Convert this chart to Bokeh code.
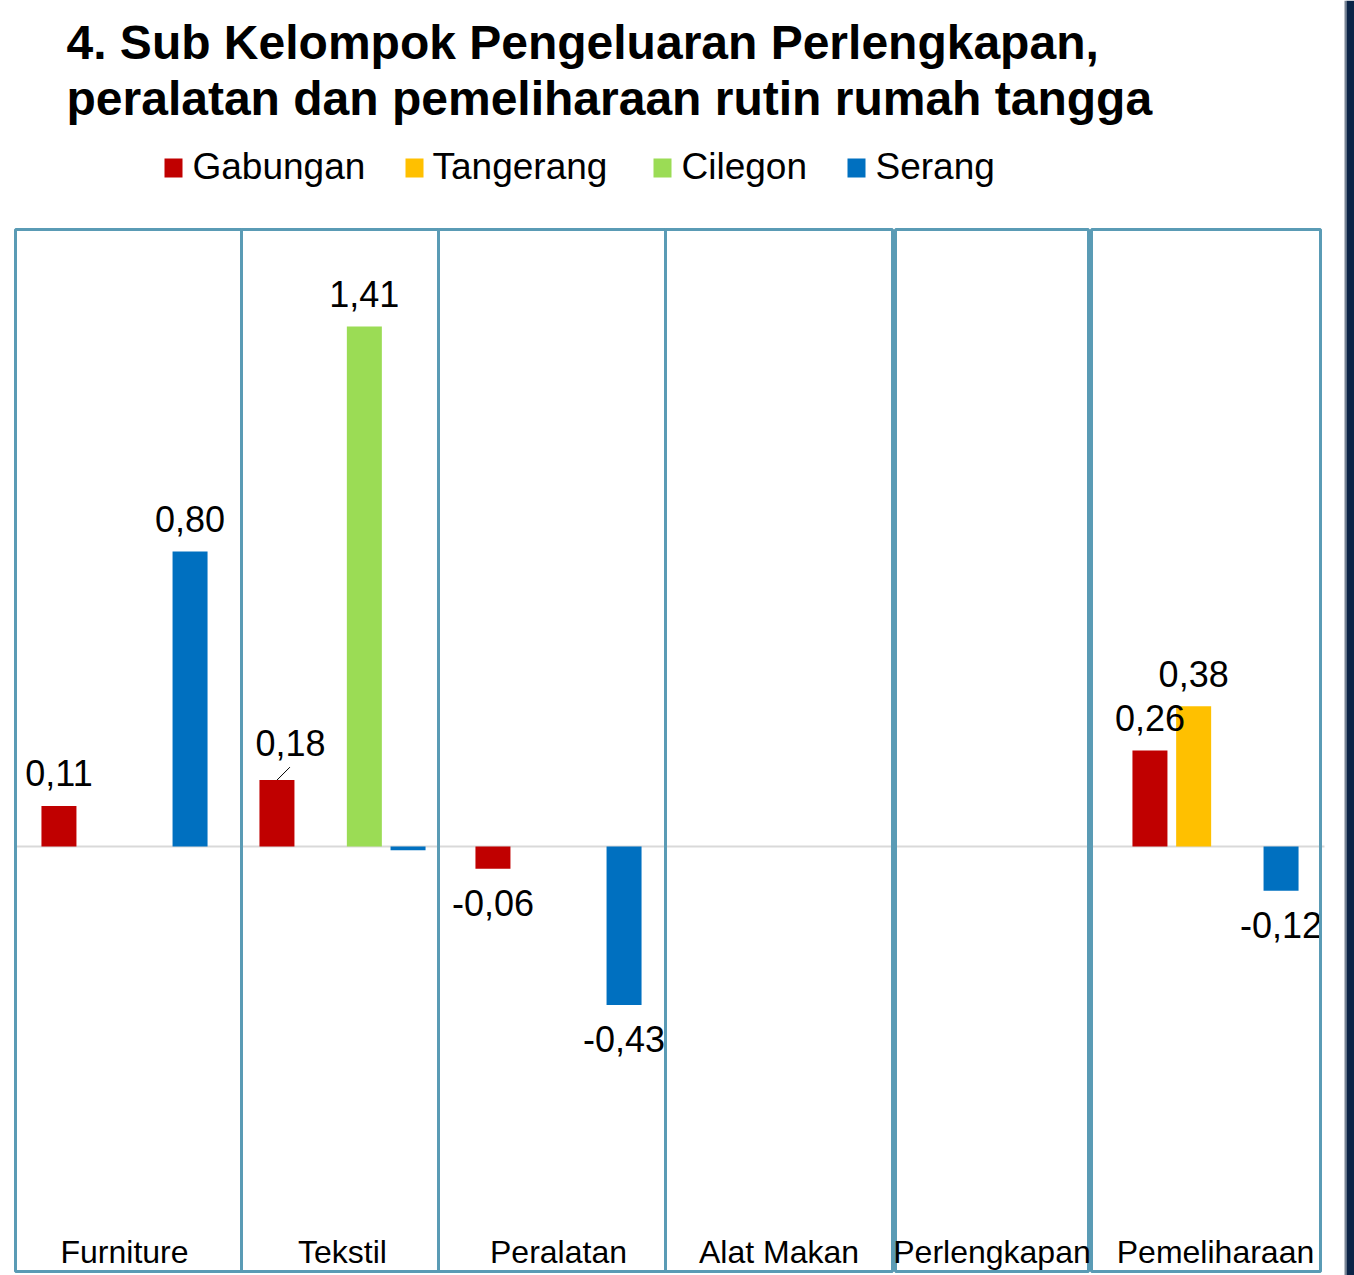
import math
from bokeh.plotting import figure
from bokeh.models import Range1d
from bokeh.core.properties import value
from bokeh.embed import file_html
from bokeh.resources import INLINE

# ---------------- data ----------------
title_lines = ["4. Sub Kelompok Pengeluaran Perlengkapan,",
               "peralatan dan pemeliharaan rutin rumah tangga"]
categories = ["Furniture", "Tekstil", "Peralatan", "Alat Makan", "Perlengkapan", "Pemeliharaan"]
series_names = ["Gabungan", "Tangerang", "Cilegon", "Serang"]
nan = float("nan")
gabungan = [0.11, 0.18, -0.06, nan, nan, 0.26]
tangerang = [nan, nan, nan, nan, nan, 0.38]
cilegon = [nan, 1.41, nan, nan, nan, nan]
serang = [0.80, -0.01, -0.43, nan, nan, -0.12]
series_values = [gabungan, tangerang, cilegon, serang]
series_colors = ["#c00000", "#ffc000", "#9bdc55", "#0070c0"]

# ---------------- layout (page pixel coordinates) ----------------
W, H = 1354, 1275
PAGE_X0, PAGE_Y0 = 0, 0
ZERO_Y = 846.0          # page y of value 0
PX_PER_UNIT = 368.8     # pixels per value unit
BASE_FIX = 0.35         # baseline correction (em) for the SVG renderer

def vy(page_y):
    return (ZERO_Y - page_y) / PX_PER_UNIT

y_top = vy(PAGE_Y0)
y_bot = vy(PAGE_Y0 + H)

panels = [(15, 241), (241, 438), (438, 665), (665, 892), (895, 1088), (1091, 1320)]
group_centers = [124, 342, 558, 778.5, 991.5, 1215]
slot = 43.7
bar_w = 35
panel_top, panel_bottom = 229, 1271
border_col = "#5a9bb5"
font = "Liberation Sans"

p = figure(width=W, height=H, output_backend="svg", toolbar_location=None,
           x_range=Range1d(PAGE_X0, PAGE_X0 + W), y_range=Range1d(y_bot, y_top),
           x_axis_type=None, y_axis_type=None, min_border=0)
p.outline_line_color = None
p.grid.visible = False
p.background_fill_color = "white"
p.border_fill_color = "white"

# right navy strip
p.quad(left=[1344], right=[1346], bottom=[y_bot], top=[y_top],
       fill_color="#7a8595", line_color=None)
p.quad(left=[1346], right=[1354], bottom=[y_bot], top=[y_top],
       fill_color="#0b2447", line_color=None)

# zero line
p.segment(x0=[15], y0=[0], x1=[1324], y1=[0], line_color="#d9d9d9", line_width=2)

VAL_FS = 36
fix_v = BASE_FIX * VAL_FS

pos_labels = []   # (x, y, text, x_off, y_off)
neg_labels = []

# bars
for si, (name, vals, col) in enumerate(zip(series_names, series_values, series_colors)):
    xs, tops = [], []
    for ci, v in enumerate(vals):
        if v is None or math.isnan(v):
            continue
        x = group_centers[ci] + (si - 1.5) * slot
        xs.append(x)
        tops.append(v)
        if abs(v) < 0.02:
            continue
        label = f"{v:.2f}".replace(".", ",")
        if v >= 0:
            if name == "Gabungan" and categories[ci] == "Tekstil":
                pos_labels.append((x, v, label, 13.5, -25))
                p.segment(x0=[x], y0=[v], x1=[x + 13], y1=[v + 13 / PX_PER_UNIT],
                          line_color="black", line_width=1)
            else:
                pos_labels.append((x, v, label, 0, -20))
        else:
            neg_labels.append((x, v, label, 0, 47))
    p.vbar(x=xs, top=tops, bottom=0, width=bar_w, fill_color=col, line_color=None)

# value labels (drawn above all bars)
for (x, v, t, ox, oy) in pos_labels + neg_labels:
    p.text(x=[x + ox], y=[v], text=[t], y_offset=oy - fix_v,
           text_font=value(font), text_font_size=f"{VAL_FS}px", text_color="black",
           text_align="center", text_baseline="alphabetic")

# panel borders
for (l, r) in panels:
    p.quad(left=[l], right=[r], bottom=[vy(panel_bottom)], top=[vy(panel_top)],
           fill_color=None, line_color=border_col, line_width=3)

# category labels
p.text(x=group_centers, y=[vy(1263 - BASE_FIX * 32)] * len(categories), text=categories,
       text_font=value(font), text_font_size="32px", text_color="black",
       text_align="center", text_baseline="alphabetic")

# title
p.text(x=[66, 66], y=[vy(59 - BASE_FIX * 48), vy(115 - BASE_FIX * 48)], text=title_lines,
       text_font=value(font), text_font_size="48px", text_font_style="bold",
       text_color="black", text_align="left", text_baseline="alphabetic")

# legend
sq_x = [164, 405, 653, 847]
tx_x = [192, 432, 681, 875]
p.quad(left=sq_x, right=[x + 18 for x in sq_x], bottom=[vy(177)] * 4, top=[vy(158)] * 4,
       fill_color=series_colors, line_color=None)
p.text(x=tx_x, y=[vy(179 - BASE_FIX * 37)] * 4, text=series_names,
       text_font=value(font), text_font_size="37px", text_color="black",
       text_align="left", text_baseline="alphabetic")

open("out.html", "w").write(file_html(p, INLINE))
